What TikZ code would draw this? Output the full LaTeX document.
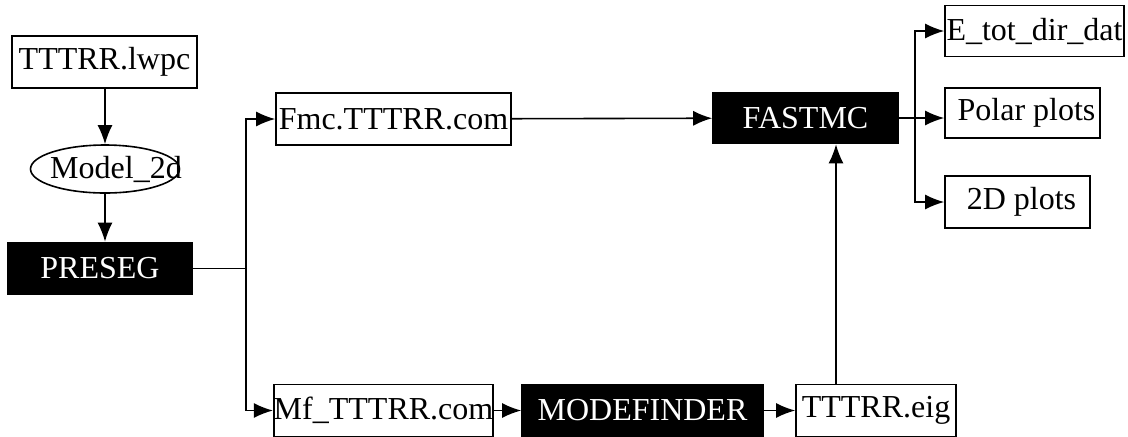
\documentclass[tikz,border=0pt]{standalone}
\usepackage{fontspec}
\setmainfont{Liberation Serif}
\usetikzlibrary{arrows.meta,shapes.geometric}

\begin{document}
\begin{tikzpicture}[x=0.5pt, y=-0.5pt, line width=0.8pt,
    font=\fontsize{16}{19}\selectfont,
    box/.style={draw, inner sep=0pt, minimum height=26pt},
    blk/.style={box, fill=black, text=white},
    arr/.style={-{Latex[length=9.5pt,width=7.5pt]}}]
    \clip (0,0) rectangle (1128,436);
    % left column
    \node[box, minimum width=92.5pt] (lwpc) at (104.5,62) {TTTRR.lwpc};
    \node[draw, ellipse, inner sep=0pt, minimum width=74.5pt, minimum height=24pt] (model) at (105,169) {};
    \node (modeltxt) at (116,169) {Model\_2d};
    \node[blk, minimum width=92pt] (preseg) at (100,268.5) {PRESEG};
    % middle
    \node[box, minimum width=117.5pt] (fmc) at (393.5,119) {Fmc.TTTRR.com};
    \node[blk, minimum width=92.5pt, minimum height=25.5pt] (fastmc) at (805.5,118) {FASTMC};
    \node[box, minimum width=108.5pt] (mf) at (383.5,410.5) {Mf\_TTTRR.com};
    \node[blk, minimum width=120.5pt] (modef) at (642.5,410.5) {MODEFINDER};
    \node[box, minimum width=80pt] (eig) at (876,410.5) {TTTRR.eig};
    % outputs
    \node[box, minimum width=89.5pt, minimum height=25.5pt] (etot) at (1034.5,31) {E\_tot\_dir\_dat};
    \node[box, minimum width=77.5pt, minimum height=25pt] (polar) at (1022.5,113) {\ Polar plots};
    \node[box, minimum width=72.5pt] (twod) at (1017.5,202) {\ 2D plots};

    \coordinate (split) at (246,268.5);
    \coordinate (fork) at (915,118);
    \coordinate (up) at (836,384.5);

    \draw[arr] (lwpc.south -| model) -- (model);
    \draw[arr] (model) -- (preseg.north -| model);
    \draw (preseg) -- (split);
    \draw[arr] (split) |- (fmc);
    \draw[arr] (split) |- (mf);
    \draw[arr] (fmc) -- (fastmc);
    \draw[arr] (mf) -- (modef);
    \draw[arr] (modef) -- (eig);
    \draw[arr] (up) -- (up |- fastmc.south);
    \draw (fastmc) -- (fork);
    \draw[arr] (fork) |- (etot);
    \draw[arr] (fork) -- (polar.west |- fork);
    \draw[arr] (fork) |- (twod);
\end{tikzpicture}
\end{document}
